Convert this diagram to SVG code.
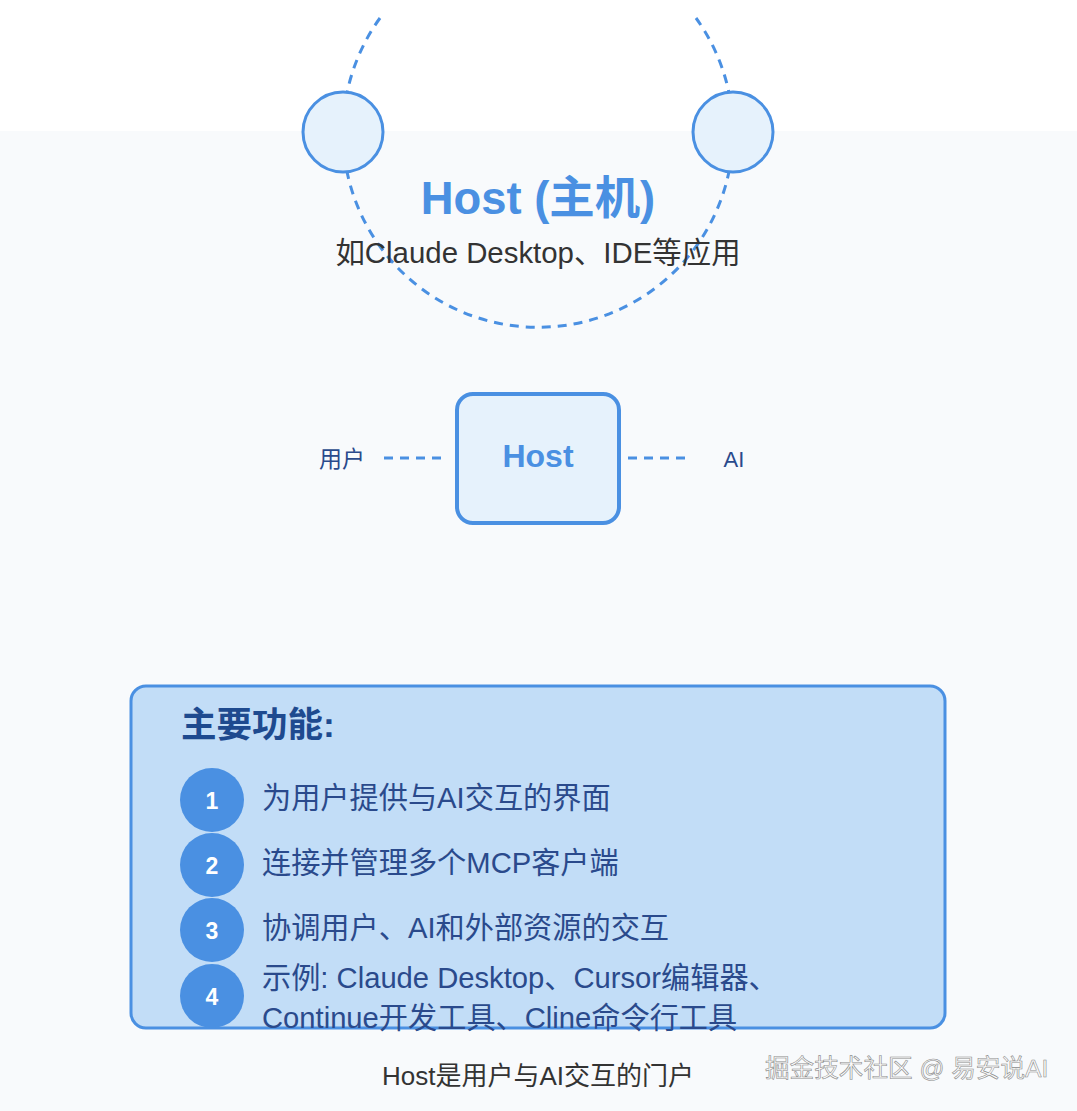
<svg xmlns="http://www.w3.org/2000/svg" width="1077" height="1111" viewBox="0 0 1077 1111">
<style>
.ff{font-family:"Liberation Sans","Noto Sans CJK SC",Arial,sans-serif;}
.blue{fill:#4a90e2;}
.dash{fill:none;stroke:#4a90e2;stroke-width:3;stroke-dasharray:9 7;}
.node{fill:#e6f2fc;stroke:#4a90e2;stroke-width:3;}
.item{font-size:29.2px;fill:#2a4a8c;}
.num{fill:#4a90e2;}
.numt{font-size:23px;font-weight:bold;fill:#ffffff;text-anchor:middle;}
</style>
<rect x="0" y="0" width="1077" height="1111" fill="#ffffff"/>
<rect x="0" y="131" width="1077" height="980" fill="#f8fafc"/>
<g id="connectors">
<path class="dash" d="M380,18 A195,195 0 1 0 696,18"/>
<line class="dash" x1="384" y1="458" x2="441" y2="458"/>
<line class="dash" x1="628" y1="458" x2="686" y2="458"/>
</g>
<g id="node-left">
<circle class="node" cx="343" cy="132" r="40"/>
</g>
<g id="node-right">
<circle class="node" cx="733" cy="132" r="40"/>
</g>
<g id="title">
<text class="ff blue" x="538" y="214" font-size="45.4" font-weight="bold" text-anchor="middle">Host (主机)</text>
<text class="ff" x="538" y="263" font-size="29.4" fill="#333333" text-anchor="middle">如Claude Desktop、IDE等应用</text>
</g>
<g id="user">
<text class="ff" x="342" y="467" font-size="23" fill="#2a4a8c" text-anchor="middle">用户</text>
</g>
<g id="host">
<rect x="457" y="394" width="162" height="129" rx="16" fill="#e6f2fc" stroke="#4a90e2" stroke-width="4"/>
<text class="ff blue" x="538" y="467" font-size="32" font-weight="bold" text-anchor="middle">Host</text>
</g>
<g id="ai">
<text class="ff" x="734" y="467" font-size="22" fill="#2a4a8c" text-anchor="middle">AI</text>
</g>
<g id="functions">
<rect x="131" y="686" width="814" height="342" rx="15" fill="#c2ddf7" stroke="#4a90e2" stroke-width="3"/>
<text class="ff" x="181" y="737" font-size="35.5" font-weight="bold" fill="#1e4a8f">主要功能:</text>
<circle class="num" cx="212" cy="800" r="32"/>
<text class="ff numt" x="212" y="809">1</text>
<text class="ff item" x="262" y="808">为用户提供与AI交互的界面</text>
<circle class="num" cx="212" cy="865" r="32"/>
<text class="ff numt" x="212" y="874">2</text>
<text class="ff item" x="262" y="873">连接并管理多个MCP客户端</text>
<circle class="num" cx="212" cy="930" r="32"/>
<text class="ff numt" x="212" y="939">3</text>
<text class="ff item" x="262" y="938">协调用户、AI和外部资源的交互</text>
<circle class="num" cx="212" cy="996" r="32"/>
<text class="ff numt" x="212" y="1005">4</text>
<text class="ff item" x="262" y="988">示例: Claude Desktop、Cursor编辑器、</text>
<text class="ff item" x="262" y="1028">Continue开发工具、Cline命令行工具</text>
</g>
<g id="footer">
<text class="ff" x="538" y="1085" font-size="26" fill="#333333" text-anchor="middle">Host是用户与AI交互的门户</text>
<text class="ff" x="765" y="1077" font-size="24.6" fill="#fafafa" stroke="#8a8a8a" stroke-width="0.6">掘金技术社区 @ 易安说AI</text>
</g>
</svg>
